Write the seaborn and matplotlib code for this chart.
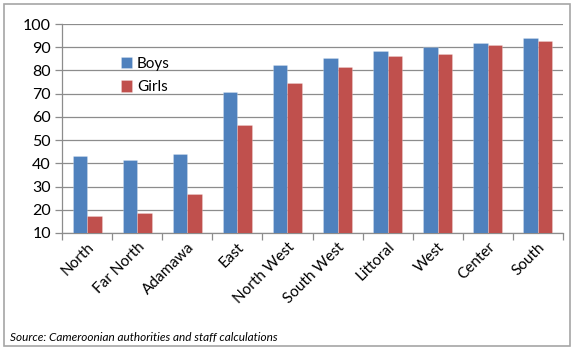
import matplotlib
matplotlib.use("Agg")
import matplotlib.pyplot as plt
from matplotlib.patches import Rectangle
import seaborn as sns
import pandas as pd

regions = ["North", "Far North", "Adamawa", "East", "North West",
           "South West", "Littoral", "West", "Center", "South"]
boys = [43.0, 41.3, 44.0, 70.6, 82.3, 85.4, 88.5, 90.0, 92.0, 94.0]
girls = [17.4, 18.4, 26.6, 56.7, 74.7, 81.3, 86.4, 87.0, 91.1, 92.6]
series = ["Boys", "Girls"]
y_ticks = [10, 20, 30, 40, 50, 60, 70, 80, 90, 100]
source_note = "Source: Cameroonian authorities and staff calculations"

df = pd.DataFrame({
    "region": regions * 2,
    "value": boys + girls,
    "sex": [series[0]] * len(regions) + [series[1]] * len(regions),
})

sns.set_theme(style="white")
plt.rcParams["font.family"] = ["Lato", "DejaVu Sans"]

fig = plt.figure(figsize=(5.73, 3.49), dpi=100)
ax = fig.add_axes([62 / 573, 1 - 233 / 349, (563 - 62) / 573, (233 - 24) / 349])

palette = {"Boys": "#4F81BD", "Girls": "#C0504D"}
sns.barplot(data=df, x="region", y="value", hue="sex", order=regions,
            hue_order=series, palette=palette, width=0.58, gap=0,
            saturation=1, ax=ax, zorder=3, linewidth=0.6,
            edgecolor="#ffffff40")

ax.set_ylim(10, 100)
ax.set_xlim(-0.5, len(regions) - 0.5)
ax.set_yticks(y_ticks)
ax.set_xlabel("")
ax.set_ylabel("")
ax.yaxis.grid(True, color="#8c8c8c", linewidth=0.9, zorder=0)
ax.set_axisbelow(True)

for side in ["top", "right"]:
    ax.spines[side].set_visible(False)
for side in ["left", "bottom"]:
    ax.spines[side].set_color("#8c8c8c")
    ax.spines[side].set_linewidth(0.9)

ax.tick_params(axis="y", which="both", left=True, length=5, width=0.9,
               color="#8c8c8c", labelsize=11.5, pad=3, labelcolor="#000000")
ax.set_xticks(range(len(regions)))
ax.set_xticklabels(regions, rotation=45, ha="right", va="top",
                   rotation_mode="anchor", fontsize=11, color="#000000")
ax.tick_params(axis="x", which="major", length=0, pad=5)

# tick marks between categories
ax.set_xticks([i - 0.5 for i in range(len(regions) + 1)], minor=True)
ax.tick_params(axis="x", which="minor", bottom=True, length=5, width=0.9,
               color="#8c8c8c")

leg = ax.legend(loc="upper left", bbox_to_anchor=(0.105, 0.872), frameon=False,
                fontsize=11, handlelength=0.75, handleheight=0.75,
                handletextpad=0.3, labelspacing=0.62, borderaxespad=0)
for t in leg.get_texts():
    t.set_color("#000000")

fig.text(10 / 573, 1 - 337 / 349, source_note, fontsize=8.5, style="italic",
         ha="left", va="center", color="#000000")

fig.patches.append(Rectangle((4 / 573, 3 / 349), 566 / 573, 342 / 349,
                             transform=fig.transFigure, fill=False,
                             edgecolor="#a6a6a6", linewidth=1.2))

fig.savefig("out.png", dpi=100)
